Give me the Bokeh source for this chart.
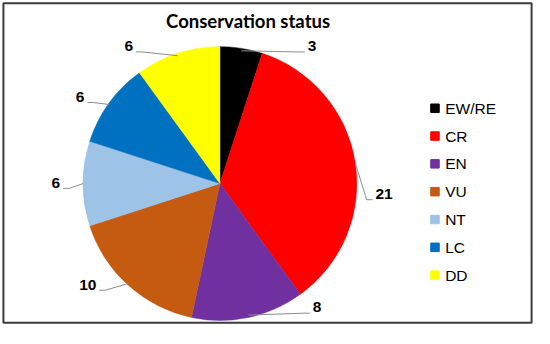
import numpy as np
from bokeh.plotting import figure
from bokeh.models import Range1d, ColumnDataSource
from bokeh.core.properties import value
from bokeh.embed import file_html
from bokeh.resources import INLINE

# ---- data ----
categories = ["EW/RE", "CR", "EN", "VU", "NT", "LC", "DD"]
counts = [3, 21, 8, 10, 6, 6, 6]
colors = ["#000000", "#FF0000", "#7030A0", "#C55A11", "#9DC3E6", "#0070C0", "#FFFF00"]
title_text = "Conservation status"

# ---- style / layout (data units = reference pixels, y up) ----
W, H = 534, 328
cx, cy, R = 226, 344 - 192, 141
label_angle_deg = [33.4, 93.7, 142.4, 232.1, 270.3, 302.3, 326.9]
label_dist = [172.5, 169.4, 164, 172.4, 169, 170.3, 172]
legend_x, legend_top, legend_pitch = 447.5, 344 - 113, 29.17

total = float(sum(counts))
frac = np.cumsum([0] + counts) / total
start = np.pi / 2 - 2 * np.pi * frac[:-1]
end = np.pi / 2 - 2 * np.pi * frac[1:]
mid = (start + end) / 2

p = figure(width=W, height=H, x_range=Range1d(0, 550), y_range=Range1d(0, 344),
           x_axis_type=None, y_axis_type=None, toolbar_location=None,
           output_backend="svg", min_border=0)
p.outline_line_color = None
p.background_fill_color = "white"
p.border_fill_color = "white"

# chart-area border
p.quad(left=[3], right=[547], bottom=[6], top=[341], fill_color=None,
       line_color="#3c3c3c", line_width=2)

src = ColumnDataSource(dict(cat=categories, cnt=counts, color=colors,
                            start=start, end=end))
p.wedge(x=cx, y=cy, radius=R, start_angle="start", end_angle="end",
        direction="clock", fill_color="color", line_color="color",
        line_width=0.5, source=src)

# leader lines and data labels
ax = cx + R * np.cos(mid)
ay = cy + R * np.sin(mid)
la = np.radians(label_angle_deg)
lx = cx + np.array(label_dist) * np.sin(la)
ly = cy + np.array(label_dist) * np.cos(la)
labels = [str(c) for c in counts]
xs, ys = [], []
for i in range(len(counts)):
    half = 4.45 * len(labels[i]) + 3
    side = 1 if lx[i] > ax[i] else -1
    ex = lx[i] - side * half
    ey = ly[i] - 6
    elx = ex - side * 6
    xs.append([ax[i], elx, ex])
    ys.append([ay[i], ey, ey])
p.multi_line(xs=xs, ys=ys, line_color="#8c8c8c", line_width=1)
p.text(x=lx, y=ly, text=labels, text_font=value("Liberation Sans"),
       text_font_style="bold", text_font_size="15.5px", text_align="center",
       text_baseline="middle", text_color="black")

# legend
ly_leg = legend_top - legend_pitch * np.arange(len(categories))
p.scatter(x=[legend_x] * len(categories), y=ly_leg, marker="square", size=8.5,
          fill_color=colors, line_color=colors)
p.text(x=[legend_x + 10.5] * len(categories), y=ly_leg, text=categories,
       text_font=value("Liberation Sans"), text_font_size="15.5px",
       text_align="left", text_baseline="middle", text_color="black")

# title
p.text(x=[255], y=[344 - 22], text=[title_text], text_font=value("Lato"),
       text_font_style="bold", text_font_size="18.5px", text_align="center",
       text_baseline="middle", text_color="black")

open("out.html", "w").write(file_html(p, INLINE))
